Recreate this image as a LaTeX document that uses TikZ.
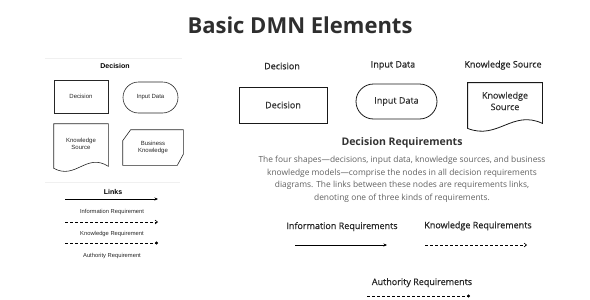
\documentclass[tikz,border=0pt]{standalone}
\usepackage{fontspec}
\setmainfont{Open Sans}
\newfontfamily\semifont[FakeBold=0.6]{Open Sans}
\newfontfamily\legendfont{Liberation Sans}
\usetikzlibrary{positioning,shapes.misc,arrows.meta}

\begin{document}
\begin{tikzpicture}[x=1pt,y=-1pt,
  minibox/.style={draw=black!85, line width=0.6pt, align=center, inner sep=0pt,
    font=\legendfont\fontsize{6}{7}\selectfont, text=black!85},
  mainbox/.style={draw=black!90, line width=0.8pt, align=center, inner sep=0pt,
    font=\semifont\fontsize{9}{11.5}\selectfont, text=black!80},
  minihead/.style={font=\legendfont\bfseries\fontsize{7}{8}\selectfont, anchor=base},
  minilabel/.style={font=\legendfont\fontsize{5.8}{7}\selectfont, anchor=base, text=black!85},
  mainhead/.style={font=\semifont\fontsize{9}{11}\selectfont, anchor=base, text=black!85},
  infolink/.style={line width=0.6pt, -{Stealth[length=3.5pt,width=3pt]}},
  knowlink/.style={line width=0.6pt, dash pattern=on 3pt off 2pt, -{Straight Barb[length=2.5pt,width=4pt]}},
  authlink/.style={line width=0.6pt, dash pattern=on 3pt off 2pt, -{Circle[length=3pt]}},
  sepline/.style={black!6, line width=0.8pt}
]

% Page frame (1pt = 1px of the target)
\useasboundingbox (0,0) rectangle (590,300);

% Title
\node[font=\bfseries\fontsize{22}{26}\selectfont, text=black!82, anchor=base] (title) at (300,33) {Basic DMN Elements};

% ---- Left panel: shapes ----
\draw[sepline] (45,58) -- (182,58);
\node[minihead] (lhead) at (115,68.3) {Decision};

\node[minibox, minimum width=54pt, minimum height=33pt] (ldec) at (81,96.5) {Decision};
\node[minibox, rounded rectangle, minimum width=55pt, minimum height=31pt] (linp) at (150.5,97.5) {Input Data};

% knowledge source: wavy bottom
\node[minibox, draw=none, minimum width=54pt, minimum height=40pt] (lks) at (81,144) {Knowledge\\Source};
\draw[black!85, line width=0.6pt] (lks.north west) -- (lks.north east) -- ([yshift=-2pt]lks.south east)
  .. controls +(-22,-14) and +(22,12) .. ([yshift=-4pt]lks.south west) -- cycle;

% business knowledge: two cut corners
\node[minibox, draw=none, minimum width=60pt, minimum height=35pt] (lbkm) at (153,147.5) {Business\\Knowledge};
\draw[black!85, line width=0.6pt] ([xshift=8pt]lbkm.north west) -- (lbkm.north east)
  -- ([yshift=11pt]lbkm.south east) -- ([xshift=-6pt]lbkm.south east)
  -- (lbkm.south west) -- ([yshift=-11pt]lbkm.north west) -- cycle;

% ---- Left panel: links ----
\draw[sepline] (45,182) -- (180,182);
\node[minihead] (lhlinks) at (113,194) {Links};

\coordinate (lia) at (65,199);  \coordinate (lib) at (158,199);
\coordinate (lka) at (65,222);  \coordinate (lkb) at (158,222);
\coordinate (laa) at (65,243);  \coordinate (lab) at (158,243);
\draw[infolink] (lia) -- (lib);
\draw[knowlink] (lka) -- (lkb);
\draw[authlink] (laa) -- (lab);

\node[minilabel] (lilab) at (112,213) {Information Requirement};
\node[minilabel] (lklab) at (112,235) {Knowledge Requirement};
\node[minilabel] (lalab) at (112,257) {Authority Requirement};

% ---- Right side: shapes ----
\node[mainhead] (rhdec) at (282,69.3) {Decision};
\node[mainhead] (rhinp) at (393,67.5) {Input Data};
\node[mainhead] (rhks) at (503,67.5) {Knowledge Source};

\node[mainbox, minimum width=88pt, minimum height=36pt] (rdec) at (283,105) {Decision};
\node[mainbox, rounded rectangle, minimum width=81pt, minimum height=35pt] (rinp) at (396.5,101.5) {Input Data};

\node[mainbox, draw=none, minimum width=74pt, minimum height=36pt] (rks) at (505,101) {Knowledge\\Source};
\draw[black!90, line width=0.8pt] (rks.north west) -- (rks.north east) -- ([yshift=-4pt]rks.south east)
  .. controls +(-30,-14) and +(30,12) .. ([yshift=-9pt]rks.south west) -- cycle;

% ---- Right side: requirements text ----
\node[font=\bfseries\fontsize{10.5}{12}\selectfont, text=black!80, anchor=base] (reqhead) at (402,145) {Decision Requirements};
\node[font=\fontsize{8.4}{12.5}\selectfont, text=black!62, align=center, anchor=north, inner sep=0pt] (reqtext) at (402,156)
  {The four shapes---decisions, input data, knowledge sources, and business\\
   knowledge models---comprise the nodes in all decision requirements\\
   diagrams. The links between these nodes are requirements links,\\
   denoting one of three kinds of requirements.};

% ---- Right side: links ----
\node[mainhead] (rhinfo) at (342,229) {Information Requirements};
\node[mainhead] (rhknow) at (478,228.3) {Knowledge Requirements};
\node[mainhead] (rhauth) at (422,285) {Authority Requirements};

\coordinate (ria) at (295,245); \coordinate (rib) at (387,245);
\coordinate (rka) at (425,245); \coordinate (rkb) at (527,245);
\coordinate (raa) at (367,296); \coordinate (rab) at (470,296);
\draw[infolink] (ria) -- (rib);
\draw[knowlink] (rka) -- (rkb);
\draw[authlink] (raa) -- (rab);

\end{tikzpicture}
\end{document}
